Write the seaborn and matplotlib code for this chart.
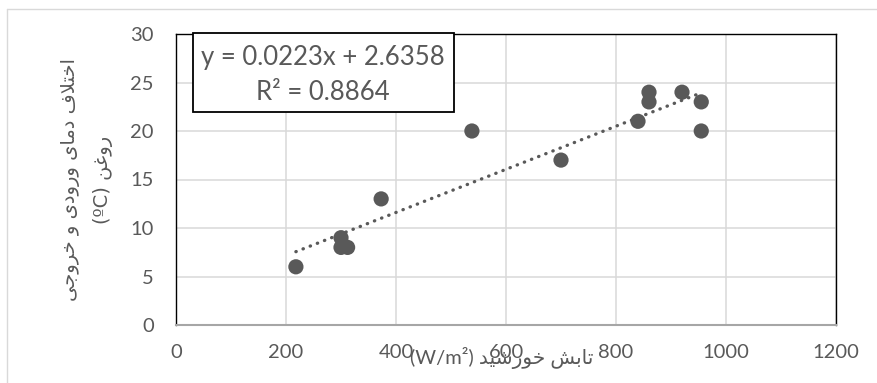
import numpy as np
import pandas as pd
import matplotlib.pyplot as plt
import seaborn as sns
from matplotlib.patches import Rectangle
from matplotlib.lines import Line2D

# --- dados ---
radiation = [218, 300, 300, 312, 373, 538, 700, 840, 860, 860, 920, 955, 955]
temp_diff = [6, 9, 8, 8, 13, 20, 17, 21, 24, 23, 24, 23, 20]
x_ticks = [0, 200, 400, 600, 800, 1000, 1200]
y_ticks = [0, 5, 10, 15, 20, 25, 30]
eq_lines = ['y = 0.0223x + 2.6358', 'R² = 0.8864']
x_label = 'تابش خورشید (W/m²)'
y_label = ['اختلاف دمای ورودی و خروجی', 'روغن (ºC)']

GRAY = '#595959'

# formas de apresentacao arabes (iso, final, inicial, medial)
FORMS = {
    'ا': (0xFE8D, 0xFE8E),
    'ب': (0xFE8F, 0xFE90, 0xFE91, 0xFE92),
    'ت': (0xFE95, 0xFE96, 0xFE97, 0xFE98),
    'ج': (0xFE9D, 0xFE9E, 0xFE9F, 0xFEA0),
    'خ': (0xFEA5, 0xFEA6, 0xFEA7, 0xFEA8),
    'د': (0xFEA9, 0xFEAA),
    'ر': (0xFEAD, 0xFEAE),
    'س': (0xFEB1, 0xFEB2, 0xFEB3, 0xFEB4),
    'ش': (0xFEB5, 0xFEB6, 0xFEB7, 0xFEB8),
    'غ': (0xFECD, 0xFECE, 0xFECF, 0xFED0),
    'ف': (0xFED1, 0xFED2, 0xFED3, 0xFED4),
    'ل': (0xFEDD, 0xFEDE, 0xFEDF, 0xFEE0),
    'م': (0xFEE1, 0xFEE2, 0xFEE3, 0xFEE4),
    'ن': (0xFEE5, 0xFEE6, 0xFEE7, 0xFEE8),
    'و': (0xFEED, 0xFEEE),
    'ی': (0xFEEF, 0xFEF0, 0xFEF3, 0xFEF4),
    'LA': (0xFEFB, 0xFEFC),
}


def shape_word(word):
    tokens = []
    i = 0
    while i < len(word):
        if word[i] == 'ل' and i + 1 < len(word) and word[i + 1] == 'ا':
            tokens.append('LA')
            i += 2
        else:
            tokens.append(word[i])
            i += 1
    out = []
    for k, t in enumerate(tokens):
        f = FORMS[t]
        prev_j = k > 0 and len(FORMS[tokens[k - 1]]) == 4
        next_j = k < len(tokens) - 1 and len(f) == 4
        if len(f) == 2:
            out.append(chr(f[1] if prev_j else f[0]))
        else:
            idx = {(False, False): 0, (True, False): 1, (False, True): 2, (True, True): 3}[(prev_j, next_j)]
            out.append(chr(f[idx]))
    return ''.join(reversed(out))


def visual(text):
    words = text.split(' ')
    return ' '.join(shape_word(w) if any(c in FORMS for c in w) else w for w in reversed(words))


sns.set_style('white')
plt.rcParams['font.family'] = ['Lato', 'DejaVu Sans']

df = pd.DataFrame({'rad': radiation, 'dt': temp_diff})

fig = plt.figure(figsize=(8.77, 3.83), dpi=100)
ax = fig.add_axes([176 / 877, 58 / 383, 660 / 877, 291 / 383])

sns.regplot(data=df, x='rad', y='dt', ax=ax, scatter=False, ci=None, color=GRAY,
            line_kws=dict(lw=2.4, linestyle=(0, (0.1, 2.2)), dash_capstyle='round', zorder=2))
sns.scatterplot(data=df, x='rad', y='dt', ax=ax, s=120, color=GRAY, edgecolor='none', zorder=3)

ax.set_xlim(0, 1200)
ax.set_ylim(0, 30)
ax.set_xticks(x_ticks)
ax.set_yticks(y_ticks)
ax.grid(True, color='#d9d9d9', lw=1.1)
ax.set_axisbelow(True)
ax.tick_params(length=0, labelsize=14.5, labelcolor=GRAY)
ax.tick_params(axis='y', pad=16)
ax.tick_params(axis='x', pad=14)

for s in ['top', 'right', 'left']:
    ax.spines[s].set_color('black')
    ax.spines[s].set_linewidth(1.0)
ax.spines['bottom'].set_color('#a6a6a6')
ax.spines['bottom'].set_linewidth(1.5)

ax.set_xlabel(visual(x_label), fontsize=14.5, color=GRAY)
ax.xaxis.set_label_coords(0.494, -0.075)
ax.set_ylabel('\n'.join(visual(l) for l in y_label), fontsize=14, color=GRAY,
              family=['DejaVu Sans'], linespacing=1.9)
ax.yaxis.set_label_coords(-0.095, 0.5)

# caixa da equacao
fig.add_artist(Rectangle((193 / 877, 1 - 112 / 383), 261 / 877, 79 / 383,
                         transform=fig.transFigure, facecolor='white', edgecolor='black', lw=1.3, zorder=5))
fig.text(323 / 877, 1 - 57 / 383, eq_lines[0], ha='center', va='center', fontsize=18.5, color=GRAY, zorder=6)
fig.text(323 / 877, 1 - 93 / 383, eq_lines[1], ha='center', va='center', fontsize=18.5, color=GRAY, zorder=6)

# moldura externa do grafico
fig.add_artist(Line2D([7 / 877, 1], [1 - 9 / 383] * 2, transform=fig.transFigure, color='#d9d9d9', lw=1))
fig.add_artist(Line2D([7 / 877] * 2, [0, 1 - 9 / 383], transform=fig.transFigure, color='#d9d9d9', lw=1))

fig.savefig('out.png', dpi=100)
